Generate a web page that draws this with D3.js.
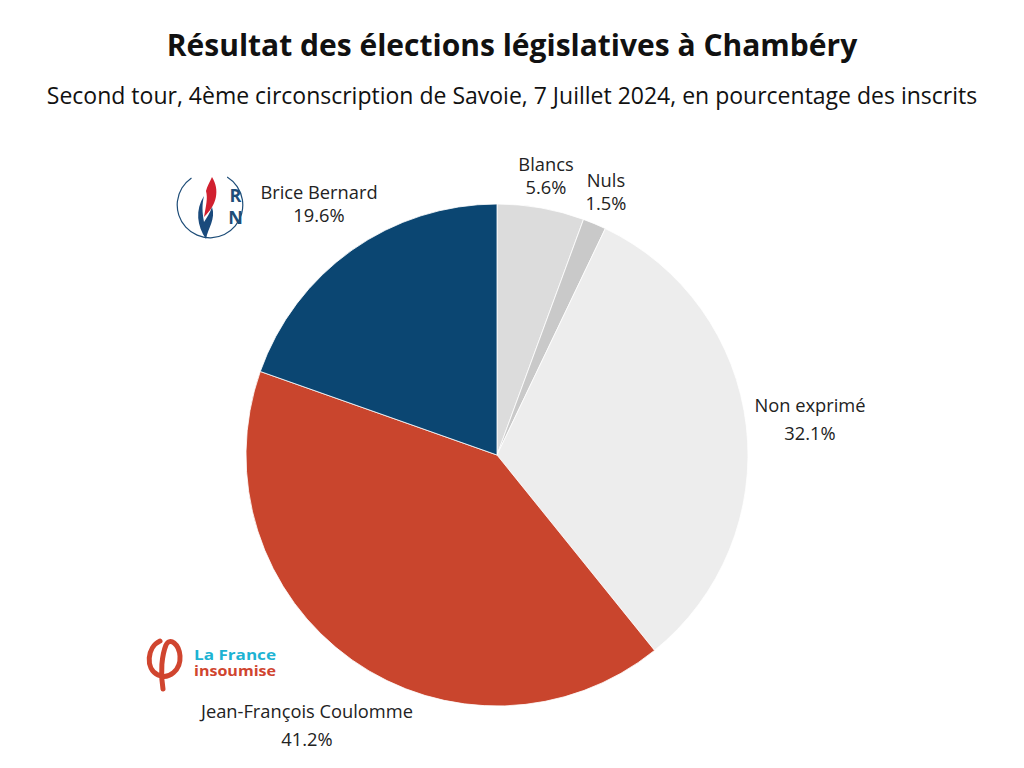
<!DOCTYPE html>
<html><head><meta charset="utf-8">
<script src="https://cdn.jsdelivr.net/npm/d3@7"></script>
<style>body{margin:0;background:#fff;} svg{display:block;}</style>
</head><body>
<script>
const title = "Résultat des élections législatives à Chambéry";
const subtitle = "Second tour, 4ème circonscription de Savoie, 7 Juillet 2024, en pourcentage des inscrits";
const categories = ["Blancs", "Nuls", "Non exprimé", "Jean-François Coulomme", "Brice Bernard"];
const values = [5.6, 1.5, 32.1, 41.2, 19.6];
const colors = ["#dcdcdc", "#c9c9c9", "#ededed", "#c9452d", "#0b4672"];

const W = 1024, H = 768;
const font = "'Open Sans', 'Noto Sans', sans-serif";
const svg = d3.select("body").append("svg").attr("width", W).attr("height", H);

svg.append("text").attr("x", 512).attr("y", 56).attr("text-anchor", "middle")
  .attr("font-family", font).attr("font-weight", 700).attr("font-size", 30).attr("fill", "#111")
  .text(title);
svg.append("text").attr("x", 512).attr("y", 104).attr("text-anchor", "middle")
  .attr("font-family", font).attr("font-size", 23).attr("fill", "#111")
  .text(subtitle);

const cx = 497, cy = 455, R = 251;
const data = categories.map((c, i) => ({cat: c, value: values[i], color: colors[i]}));
const pie = d3.pie().value(d => d.value).sort(null);
const arc = d3.arc().innerRadius(0).outerRadius(R);
const arcs = pie(data);
const g = svg.append("g").attr("transform", `translate(${cx},${cy})`);
g.selectAll("path").data(arcs).enter().append("path")
  .attr("d", arc).attr("fill", d => d.data.color)
  .attr("stroke", "#fff").attr("stroke-width", 0.8);

// label anchor offsets relative to pie centre
const labelPos = [[49, -284], [109, -268], [313, -43], [-190, 263], [-178, -256]];
const lineGap = [23, 23, 28, 28, 23];
arcs.forEach((a, i) => {
  const x = cx + labelPos[i][0], y = cy + labelPos[i][1];
  const base = svg.append("g");
  base.append("text").attr("x", x).attr("y", y).attr("text-anchor", "middle")
    .attr("font-family", font).attr("font-size", 18.3).attr("fill", "#222")
    .attr("textLength", null).text(a.data.cat);
  base.append("text").attr("x", x).attr("y", y + lineGap[i]).attr("text-anchor", "middle")
    .attr("font-family", font).attr("font-size", 18.3).attr("fill", "#222")
    .text(d3.format(".1f")(a.data.value) + "%");
});

// RN logo
const rnBlue = "#1e4d78";
const rn = svg.append("g");
rn.append("path").attr("transform", "translate(210,205)")
  .attr("d", d3.arc().innerRadius(32.2).outerRadius(33.4).startAngle(0.55).endAngle(2 * Math.PI - 0.6)())
  .attr("fill", rnBlue);
rn.append("path").attr("d", "M212,177 C220,190 217,205 204,217 C206,206 208,198 206,191 C207,186 210,182 212,177Z").attr("fill", "#d1202f");
rn.append("path").attr("d", "M204,196 C195,210 197,226 206,239 C208,228 216,219 212,207 C210,213 207,217 204,222 C202,212 202,204 204,196Z").attr("fill", "#1a4a7c");
rn.append("text").attr("x", 235.5).attr("y", 201.5).attr("text-anchor", "middle").attr("font-family", font)
  .attr("font-weight", 700).attr("font-size", 18).attr("fill", rnBlue).text("R");
rn.append("text").attr("x", 235.5).attr("y", 224).attr("text-anchor", "middle").attr("font-family", font)
  .attr("font-weight", 700).attr("font-size", 18).attr("fill", rnBlue).text("N");

// LFI logo
const lfiRed = "#d0452f";
const lfi = svg.append("g");
lfi.append("path").attr("d", "M160,641 C147,647 145,669 158,675 C169,680 181,670 180,656 C179,644 170,637 166,645 C162,655 160,672 163,689")
  .attr("fill", "none").attr("stroke", lfiRed).attr("stroke-width", 5).attr("stroke-linecap", "round");
lfi.append("text").attr("x", 194).attr("y", 659.5).attr("font-family", font).attr("font-weight", 700)
  .attr("font-size", 13.4).attr("fill", "#1db3d3")
  .attr("textLength", 82).attr("lengthAdjust", "spacingAndGlyphs").text("La France");
lfi.append("text").attr("x", 194).attr("y", 676).attr("font-family", font).attr("font-weight", 700)
  .attr("font-size", 13.4).attr("fill", lfiRed)
  .attr("textLength", 82).attr("lengthAdjust", "spacingAndGlyphs").text("insoumise");
</script>
</body></html>
